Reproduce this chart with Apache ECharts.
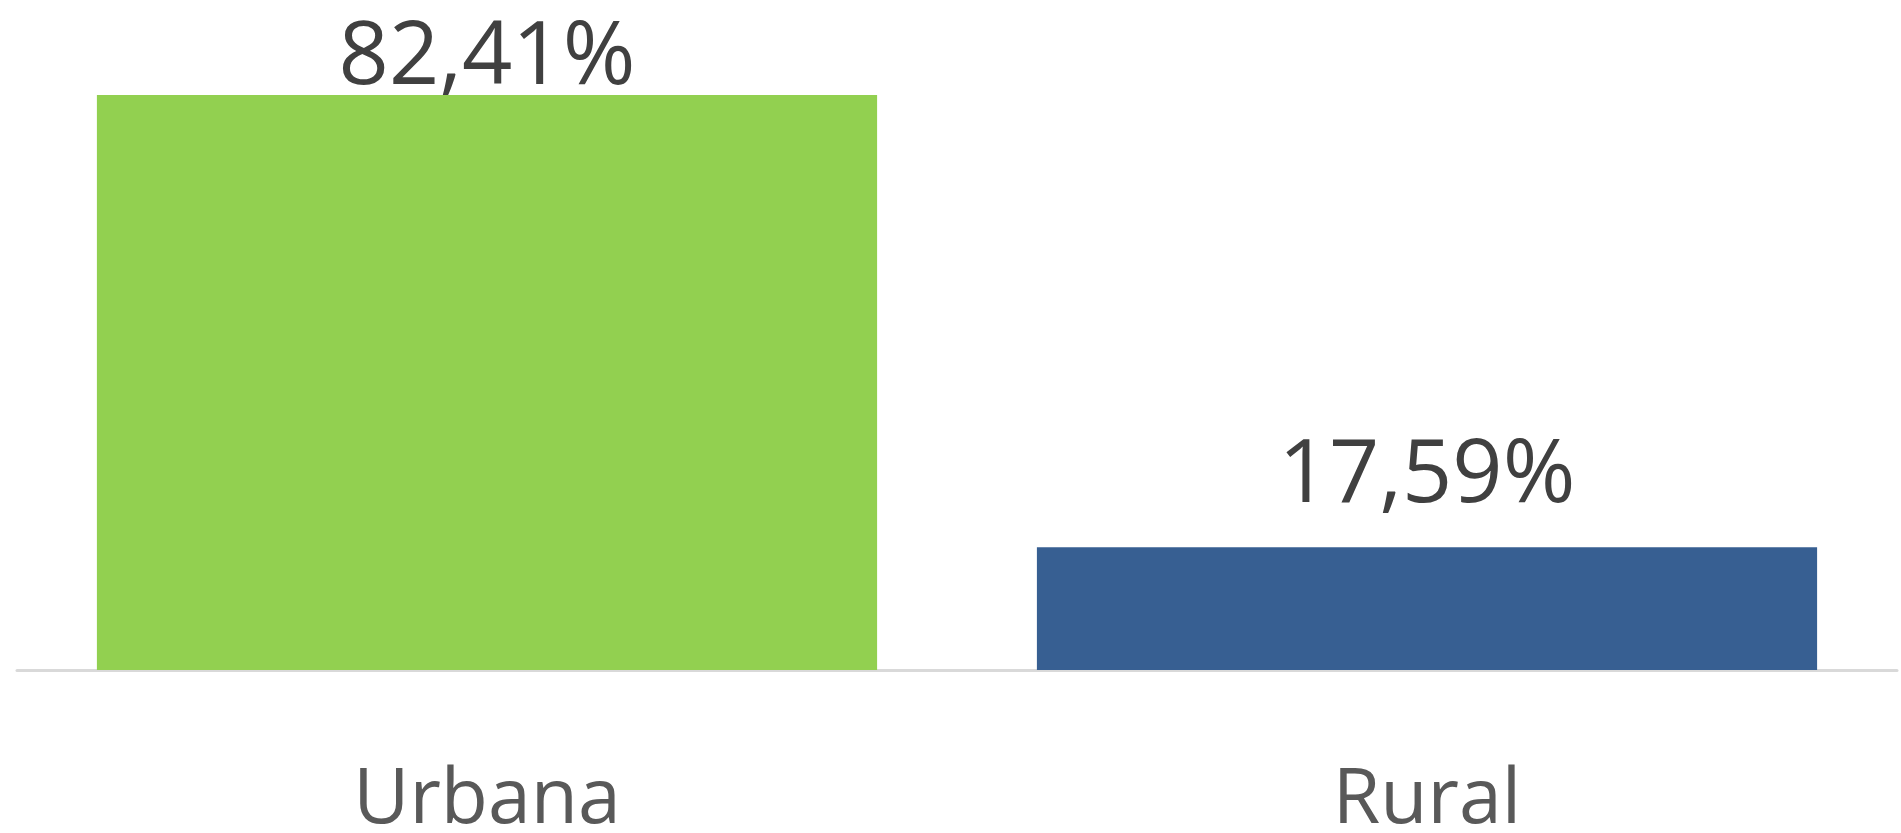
<!DOCTYPE html>
<html>
<head>
    <meta charset="utf-8">
    <title>Urbana / Rural</title>
    <script src="https://cdn.jsdelivr.net/npm/echarts@6/dist/echarts.min.js"></script>
    <style>
        html, body { margin: 0; padding: 0; background: #fff; }
        #main { width: 1901px; height: 833px; }
    </style>
</head>
<body>
<div id="main"></div>
<script>
    // dados
    var categorias = ['Urbana', 'Rural'];
    var valores = [82.41, 17.59];
    var cores = ['#92D050', '#375F92'];
    // o rótulo da barra alta fica colado no topo, como no original
    var distRotulo = [-8, 26];

    var myChart = echarts.init(document.getElementById('main'));

    var dados = valores.map(function (v, i) {
        return {
            value: v,
            itemStyle: { color: cores[i] },
            label: { distance: distRotulo[i] }
        };
    });

    myChart.setOption({
        animation: false,
        grid: { left: 17, right: 4, top: 77, bottom: 163, outerBoundsMode: 'none' },
        xAxis: {
            type: 'category',
            data: categorias,
            axisTick: { show: false },
            axisLine: { lineStyle: { color: '#D9D9D9', width: 3 } },
            axisLabel: {
                color: '#595959',
                fontFamily: 'Open Sans',
                fontSize: 77,
                margin: 93
            }
        },
        yAxis: {
            type: 'value',
            min: 0,
            max: 85,
            show: false,
            splitLine: { show: false }
        },
        series: [{
            type: 'bar',
            data: dados,
            barWidth: '83%',
            label: {
                show: true,
                position: 'top',
                color: '#404040',
                fontFamily: 'Open Sans',
                fontSize: 88,
                formatter: function (p) {
                    return p.value.toFixed(2).replace('.', ',') + '%';
                }
            }
        }]
    });
</script>
</body>
</html>
